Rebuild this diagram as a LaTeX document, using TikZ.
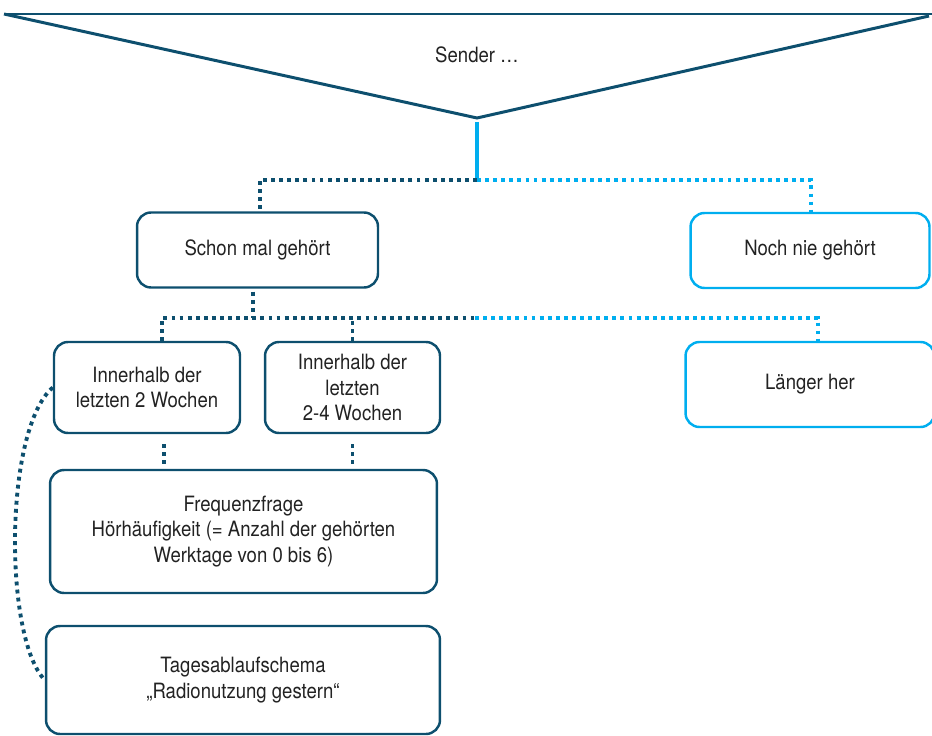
\documentclass[tikz,border=0pt]{standalone}
\usepackage{fontspec}
\setmainfont{TeX Gyre Heros}[FakeStretch=0.88]
\usetikzlibrary{positioning,calc}
\definecolor{dunkel}{HTML}{0D4F6E}
\definecolor{hell}{HTML}{00AEEF}
\definecolor{schrift}{HTML}{222222}
\begin{document}
\begin{tikzpicture}
[x=0.02cm,y=-0.02cm,
font=\fontsize{12pt}{14.6pt}\selectfont,
kasten/.style={shape=rectangle,draw=dunkel,line width=1.4pt,rounded corners=0.28cm,
  align=center,text=schrift,inner sep=2pt},
hkasten/.style={kasten,draw=hell},
ddot/.style={draw=dunkel,line width=2.2pt,dash pattern=on 2.2pt off 2.4pt},
hdot/.style={ddot,draw=hell},
trichter/.style={draw=dunkel,line width=1.7pt,line join=miter}]
\useasboundingbox (0,0) rectangle (932,736);
%%
% Sender
%%
\coordinate (tl) at (4,14);
\coordinate (tr) at (934,14);
\coordinate (spitze) at (477,118);
\draw[trichter] (tl) -- (tr);
\draw[trichter] (tl) -- (spitze) -- (929,16);
\node[text=schrift] (sender) at (477,55) {Sender …};
%%
% Ebene 1
%%
\node[kasten,minimum width=4.82cm,minimum height=1.5cm] (gehoert) at (257.5,250) {Schon mal gehört};
\node[hkasten,minimum width=4.78cm,minimum height=1.5cm] (nie) at (810,250.5) {Noch nie gehört};
\coordinate (j1) at (477,180);
\draw[hell,line width=2pt] ([yshift=-0.08cm]spitze) -- (j1);
\draw[ddot] (j1) -| ([xshift=0.05cm]gehoert.north);
\draw[hdot] (j1) -| ([xshift=0.02cm]nie.north);
%%
% Ebene 2
%%
\node[kasten,minimum width=3.72cm,minimum height=1.82cm] (zwei) at (147,387.5) {Innerhalb der\\letzten 2 Wochen};
\node[kasten,minimum width=3.5cm,minimum height=1.82cm] (vier) at (352.5,387.5) {Innerhalb der\\letzten\\2-4 Wochen};
\node[hkasten,minimum width=4.98cm,minimum height=1.7cm] (laenger) at (810,384.5) {Länger her};
\coordinate (j2) at (475,318);
\draw[ddot,shorten <=0.06cm] ([xshift=-0.09cm]gehoert.south) -- ([xshift=-0.09cm]gehoert.south|-j2);
\draw[ddot] ([xshift=0.3cm]zwei.north) |- (j2);
\draw[ddot] (vier.north) -- (vier.north|-j2);
\draw[hdot] (j2) -| ([xshift=0.16cm]laenger.north);
%%
% Ebene 3
%%
\node[kasten,minimum width=7.74cm,minimum height=2.46cm] (frequenz) at (243.5,531.5)
{Frequenzfrage\\Hörhäufigkeit (= Anzahl der gehörten\\Werktage von 0 bis 6)};
\node[kasten,minimum width=7.88cm,minimum height=2.16cm] (tages) at (243,680)
{Tagesablaufschema\\„Radionutzung gestern“};
\draw[ddot,shorten <=0.2cm,shorten >=0.06cm] ([xshift=0.34cm]zwei.south) -- ([xshift=0.34cm]zwei.south|-frequenz.north);
\draw[ddot,shorten <=0.2cm,shorten >=0.06cm] (vier.south) -- (vier.south|-frequenz.north);
\draw[ddot] (zwei.west) .. controls +(-49,42) and +(-41,-42) .. (tages.west);
\end{tikzpicture}
\end{document}
